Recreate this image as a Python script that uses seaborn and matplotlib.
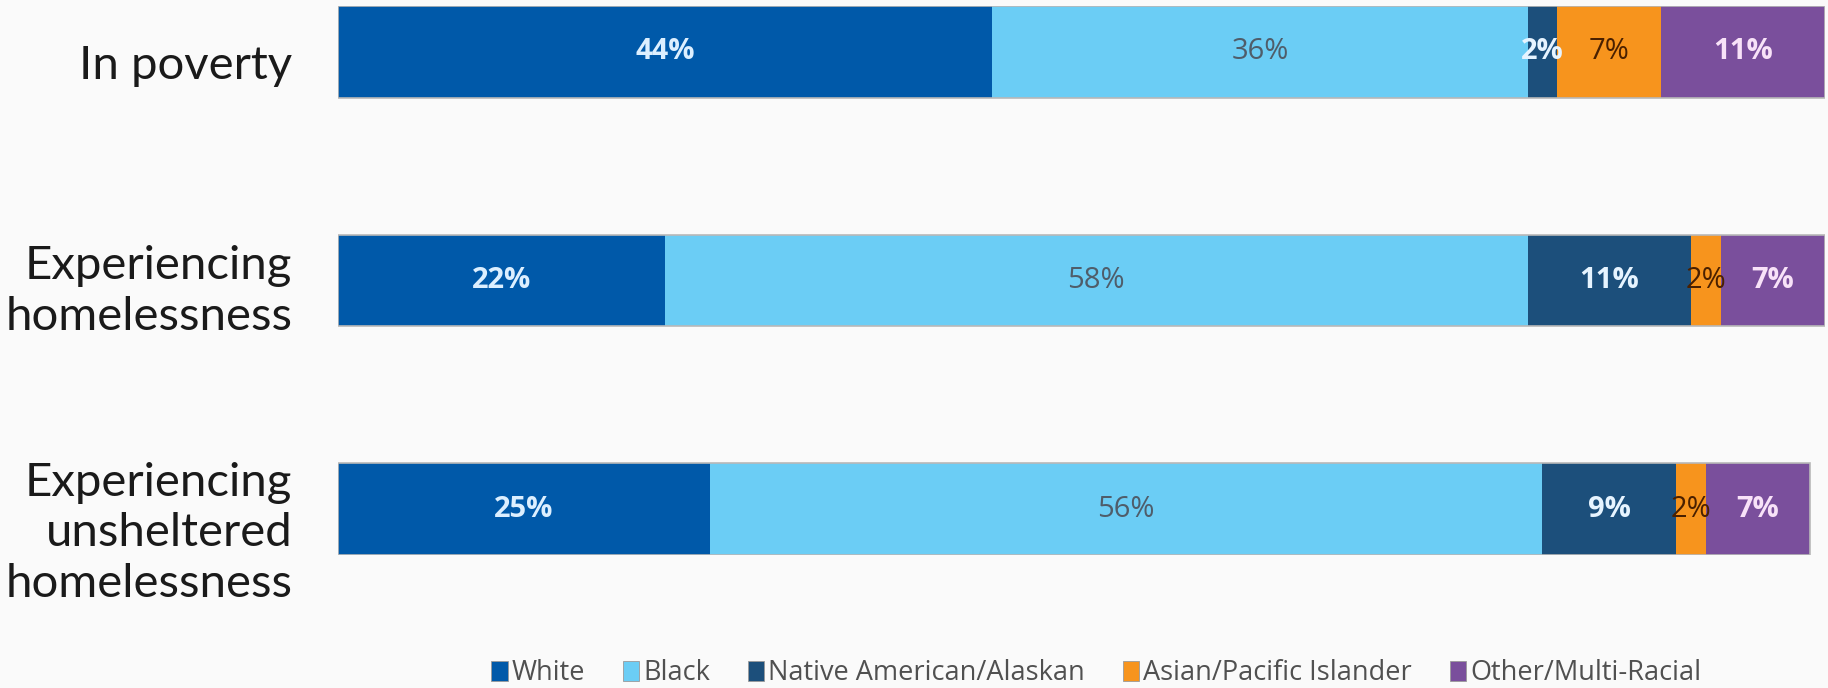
import numpy as np
import pandas as pd
import matplotlib
matplotlib.use("Agg")
import matplotlib.pyplot as plt
import matplotlib.transforms as mtransforms
from matplotlib.patches import Patch
import seaborn as sns

# data
groups = ["In poverty", "Experiencing\nhomelessness", "Experiencing\nunsheltered\nhomelessness"]
races = ["White", "Black", "Native American/Alaskan", "Asian/Pacific Islander", "Other/Multi-Racial"]
white = [44, 22, 25]
black = [36, 58, 56]
native = [2, 11, 9]
asian = [7, 2, 2]
other = [11, 7, 7]

colors = ["#0059a9", "#6bcdf5", "#1c4f7b", "#f7941d", "#7a4f9c"]
text_colors = ["#dcefff", "#4f5d6a", "#e6f4ff", "#4a2000", "#f8e2f8"]
text_weights = ["bold", "normal", "bold", "normal", "bold"]
label_shift = [14, 11, 24]  # px downward shift of the group labels

df = pd.DataFrame({"group": groups, "White": white, "Black": black,
                   "Native American/Alaskan": native,
                   "Asian/Pacific Islander": asian, "Other/Multi-Racial": other})
cum = df[races].cumsum(axis=1)

sns.set_style("white")
bg = "#fafafa"
fig = plt.figure(figsize=(18.28, 6.88), dpi=100, facecolor=bg)
ax = fig.add_axes([338 / 1828, (688 - 555) / 688, (1825 - 338) / 1828, 549 / 688])
ax.set_facecolor(bg)

# stacked bars: draw cumulative totals from widest to narrowest
for i in range(len(races) - 1, -1, -1):
    sns.barplot(x=cum[races[i]], y=df["group"], orient="h", color=colors[i],
                saturation=1, width=0.4, linewidth=0, ax=ax)
sns.barplot(x=cum[races[-1]], y=df["group"], orient="h", fill=False,
            edgecolor="#b8b8b8", linewidth=1.2, width=0.4, ax=ax)

# value labels in the middle of each segment
for i, r in enumerate(races):
    for j in range(len(groups)):
        v = df[r].iloc[j]
        ax.text(cum[r].iloc[j] - v / 2, j, f"{v}%", ha="center", va="center",
                fontsize=21, color=text_colors[i], fontweight=text_weights[i],
                family="Open Sans")

ax.set_xlim(0, 100)
ax.set_ylim(2.2, -0.2)
ax.set_xlabel("")
ax.set_ylabel("")
ax.set_xticks([])
for s in ax.spines.values():
    s.set_visible(False)
ax.tick_params(axis="y", length=0, pad=33)
for k, lab in enumerate(ax.get_yticklabels()):
    lab.set_fontsize(34)
    lab.set_family("Lato")
    lab.set_color("#1a1a1a")
    lab.set_multialignment("right")
    lab.set_linespacing(1.25)
    lab.set_verticalalignment("center")
    lab.set_transform(lab.get_transform() +
                      mtransforms.ScaledTranslation(0, -label_shift[k] / 100, fig.dpi_scale_trans))

handles = [Patch(facecolor=c, edgecolor="#9a9a9a", linewidth=0.6) for c in colors]
ax.legend(handles, races, loc="center", bbox_to_anchor=(0.51, -0.215), ncol=5,
          frameon=False, handlelength=0.6, handleheight=0.75, handletextpad=0.15,
          columnspacing=1.4, prop={"family": "Open Sans", "size": 19.5},
          labelcolor="#505050")

fig.savefig("out.png", dpi=100, facecolor=bg)
